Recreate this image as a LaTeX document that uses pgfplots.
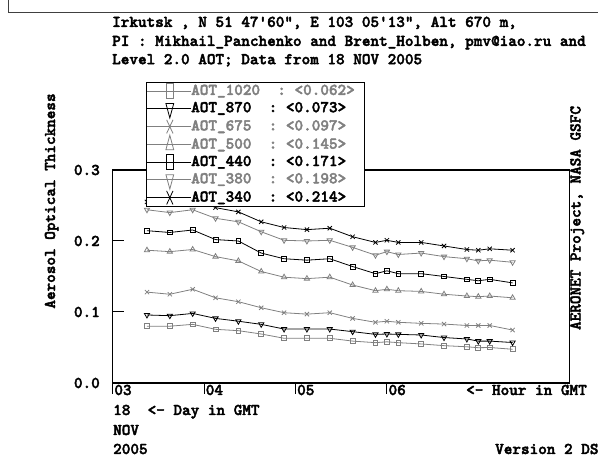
\documentclass[border=0pt]{standalone}
\usepackage{fontspec}
\newfontfamily\lmb{lmmonolt10-bold.otf}[FakeBold=2.5]
\usepackage{pgfplots}
\usepackage{pgfplotstable}
\pgfplotsset{compat=1.18}
\definecolor{aerGrey}{HTML}{808080}
\newcommand{\ff}{\fontsize{16.4}{19}\selectfont\lmb}

% AOT per wavelength, hour in GMT (18 NOV 2005)
\pgfplotstableread{
h     a1020  a870   a675   a500   a440   a380  a340
3.375 0.0800 0.0958 0.128  0.187  0.2145 0.244 0.255
3.625 0.0800 0.0948 0.125  0.185  0.212  0.240 0.252
3.875 0.0826 0.0980 0.132  0.188  0.2155 0.244 0.262
4.125 0.0756 0.0910 0.120  0.178  0.202  0.232 0.247
4.375 0.0737 0.0870 0.1145 0.172  0.200  0.227 0.241
4.625 0.0690 0.0826 0.106  0.157  0.183  0.213 0.227
4.875 0.0630 0.0760 0.099  0.149  0.175  0.201 0.219
5.125 0.0630 0.0760 0.097  0.147  0.173  0.200 0.216
5.375 0.0630 0.0760 0.099  0.149  0.175  0.201 0.218
5.625 0.0590 0.0723 0.091  0.138  0.164  0.191 0.206
5.875 0.0568 0.0685 0.0855 0.130  0.154  0.180 0.198
6.000 0.0580 0.0690 0.087  0.132  0.158  0.185 0.201
6.125 0.0568 0.0685 0.0855 0.130  0.154  0.181 0.198
6.375 0.0550 0.0676 0.084  0.129  0.154  0.183 0.198
6.625 0.0526 0.0640 0.083  0.125  0.150  0.178 0.193
6.875 0.0510 0.0620 0.081  0.1225 0.146  0.175 0.188
7.000 0.0497 0.0590 0.081  0.1216 0.144  0.172 0.187
7.125 0.0500 0.0590 0.081  0.1225 0.146  0.173 0.189
7.375 0.0475 0.0570 0.0746 0.120  0.141  0.170 0.187
}\aot

\begin{document}
\begin{tikzpicture}[x=1pt,y=1pt]
\useasboundingbox (0,0) rectangle (598,457);
\draw[line width=1pt, black!75] (8.3,457) -- (8.3,444.3) -- (598,444.3);

\node[anchor=base west, inner sep=0pt, font=\ff] at (112,430.1) {Irkutsk , N 51 47'60", E 103 05'13", Alt 670 m,};
\node[anchor=base west, inner sep=0pt, font=\ff] at (112,411.1) {PI : Mikhail\_Panchenko and Brent\_Holben, pmv@iao.ru and};
\node[anchor=base west, inner sep=0pt, font=\ff] at (112,392.8) {Level 2.0 AOT; Data from 18 NOV 2005};

\begin{axis}[
  at={(112.7pt,74pt)}, anchor=south west,
  scale only axis, width=457pt, height=213pt,
  xmin=3, xmax=8, ymin=0, ymax=0.3,
  axis line style={line width=1.1pt},
  xtick={3,4,5,6}, xticklabels={03,04,05,06},
  ytick={0,0.1,0.2,0.3}, yticklabels={0.0,0.1,0.2,0.3},
  xtick pos=left, ytick pos=left,
  tick align=inside, major tick length=11pt,
  tick style={line width=1pt, black},
  xtick style={yshift=-11pt},
  ticklabel style={font=\ff},
  xticklabel style={anchor=base west, inner sep=0pt, xshift=1.5pt, yshift=-12pt},
  yticklabel style={anchor=east, inner sep=0pt, xshift=-12.7pt},
  every axis plot/.append style={line width=0.8pt},
  legend cell align=left,
  legend style={at={(0.0729,1.4131)}, anchor=north west, draw=black, fill=white,
    line width=0.8pt, inner xsep=0pt, inner ysep=0pt, row sep=0pt,
    font=\ff, nodes={inner sep=0pt, text height=12.5pt, text depth=4.8pt}},
  legend image code/.code={
    \draw[#1, mark=none] (0pt,0pt) -- (44pt,0pt);
    \draw[#1, every mark/.append style={xscale=1.5, yscale=3.2}] plot coordinates {(23pt,0pt)};
  },
]
\addplot[aerGrey, mark=square, mark size=2.4pt] table[x=h, y=a1020] {\aot};
\addlegendentry{\textcolor{aerGrey}{AOT\_1020~~:~<0.062>}\hspace*{10pt}}
\addplot[black, mark=triangle, mark size=3pt, mark options={rotate=180}] table[x=h, y=a870] {\aot};
\addlegendentry{AOT\_870~~:~<0.073>}
\addplot[aerGrey, mark=x, mark size=3pt] table[x=h, y=a675] {\aot};
\addlegendentry{\textcolor{aerGrey}{AOT\_675~~:~<0.097>}}
\addplot[aerGrey, mark=triangle, mark size=3pt] table[x=h, y=a500] {\aot};
\addlegendentry{\textcolor{aerGrey}{AOT\_500~~:~<0.145>}}
\addplot[black, mark=square, mark size=2.4pt] table[x=h, y=a440] {\aot};
\addlegendentry{AOT\_440~~:~<0.171>}
\addplot[aerGrey, mark=triangle, mark size=3pt, mark options={rotate=180}] table[x=h, y=a380] {\aot};
\addlegendentry{\textcolor{aerGrey}{AOT\_380~~:~<0.198>}}
\addplot[black, mark=x, mark size=3pt] table[x=h, y=a340] {\aot};
\addlegendentry{AOT\_340~~:~<0.214>}
\end{axis}

\node[rotate=90, anchor=base, inner sep=0pt, font=\ff] at (55,256) {Aerosol Optical Thickness};
\node[rotate=90, anchor=base, inner sep=0pt, font=\ff] at (580.5,239) {AERONET Project, NASA GSFC};
\node[anchor=base west, inner sep=0pt, font=\ff] at (466,62) {<- Hour in GMT};
\node[anchor=base west, inner sep=0pt, font=\ff] at (113,42) {18~~<-~Day in GMT};
\node[anchor=base west, inner sep=0pt, font=\ff] at (113,22) {NOV};
\node[anchor=base west, inner sep=0pt, font=\ff] at (113,3) {2005};
\node[anchor=base west, inner sep=0pt, font=\ff] at (495,3) {Version 2 DS};
\end{tikzpicture}
\end{document}
